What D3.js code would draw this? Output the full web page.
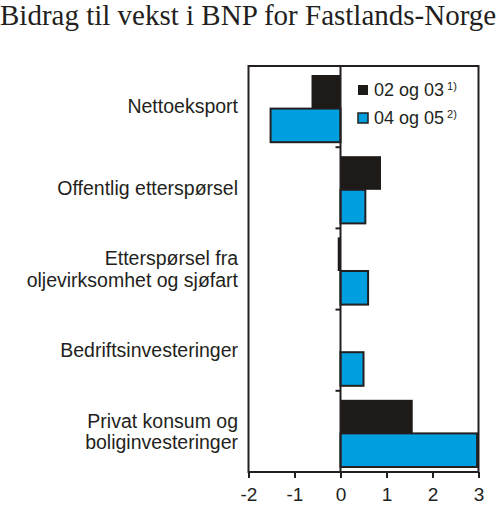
<!DOCTYPE html>
<html>
<head>
<meta charset="utf-8">
<script src="https://cdn.jsdelivr.net/npm/d3@7"></script>
<style>
  body { margin: 0; background: white; }
</style>
</head>
<body>
<div id="chart"></div>
<script>
const categories = [
  ["Nettoeksport"],
  ["Offentlig etterspørsel"],
  ["Etterspørsel fra", "oljevirksomhet og sjøfart"],
  ["Bedriftsinvesteringer"],
  ["Privat konsum og", "boliginvesteringer"]
];
const series = ["02 og 03", "04 og 05"];
const notes = ["1)", "2)"];
const values0203 = [-0.63, 0.88, -0.06, 0, 1.57];
const values0405 = [-1.52, 0.54, 0.6, 0.5, 2.97];
const xTicks = [-2, -1, 0, 1, 2, 3];

const black = "#1d1a17";
const blue = "#00a0e0";
const edge = "#231f20";
const sans = "Liberation Sans, Arial, sans-serif";

const width = 500;
const height = 508;
const margin = { top: 66, bottom: 36, left: 248.5, right: 21.5 };

const svg = d3
  .select("#chart")
  .append("svg")
  .attr("width", width)
  .attr("height", height);

const x = d3
  .scaleLinear()
  .domain([-2, 3])
  .range([margin.left, width - margin.right]);

const y = d3
  .scaleBand()
  .domain(d3.range(categories.length))
  .range([margin.top, height - margin.bottom]);

const sub = d3
  .scaleBand()
  .domain(series)
  .range([9, y.bandwidth() - 5]);

// title
svg
  .append("text")
  .attr("x", 0)
  .attr("y", 25)
  .attr("font-family", "Liberation Serif, Times New Roman, serif")
  .attr("font-size", 29)
  .attr("fill", "#231f20")
  .text("Bidrag til vekst i BNP for Fastlands-Norge");

// frame
svg
  .append("rect")
  .attr("x", margin.left)
  .attr("y", margin.top)
  .attr("width", width - margin.left - margin.right)
  .attr("height", height - margin.top - margin.bottom)
  .attr("fill", "none")
  .attr("stroke", edge)
  .attr("stroke-width", 2);

const rows = categories.map((c, i) => ({
  i: i,
  label: c,
  vals: [values0203[i], values0405[i]]
}));

// bars
const groups = svg
  .append("g")
  .selectAll("g")
  .data(rows)
  .join("g")
  .attr("transform", (d) => `translate(0, ${y(d.i)})`);

groups
  .selectAll("rect")
  .data((d) => d.vals.map((v, k) => ({ v: v, s: series[k], k: k })))
  .join("rect")
  .attr("x", (d) => x(Math.min(0, d.v)))
  .attr("y", (d) => sub(d.s))
  .attr("width", (d) => Math.abs(x(d.v) - x(0)))
  .attr("height", sub.bandwidth())
  .attr("fill", (d) => (d.k === 0 ? black : blue))
  .attr("stroke", (d) => (d.k === 0 ? "none" : edge))
  .attr("stroke-width", 2);

// zero line with category ticks
svg
  .append("line")
  .attr("x1", x(0))
  .attr("x2", x(0))
  .attr("y1", margin.top)
  .attr("y2", height - margin.bottom)
  .attr("stroke", edge)
  .attr("stroke-width", 2);

svg
  .append("g")
  .selectAll("line")
  .data(d3.range(1, categories.length))
  .join("line")
  .attr("x1", x(0) - 5)
  .attr("x2", x(0))
  .attr("y1", (d) => y(d))
  .attr("y2", (d) => y(d))
  .attr("stroke", edge)
  .attr("stroke-width", 2);

// category labels
const labels = svg
  .append("g")
  .attr("font-family", sans)
  .attr("font-size", 19.5)
  .attr("fill", "#231f20")
  .attr("text-anchor", "end")
  .selectAll("text")
  .data(rows)
  .join("text")
  .attr("x", 238)
  .attr("y", (d) => y(d.i) + y.bandwidth() / 2);

labels
  .selectAll("tspan")
  .data((d) => d.label.map((t, k) => ({ t: t, k: k, n: d.label.length })))
  .join("tspan")
  .attr("x", 238)
  .attr("dy", (d) => (d.k === 0 ? (0.35 - (d.n - 1) * 0.55) + "em" : "1.1em"))
  .text((d) => d.t);

// x axis
function xAxis(g) {
  g.attr("transform", `translate(0, ${height - margin.bottom})`)
    .call(d3.axisBottom(x).tickValues(xTicks).tickSize(6).tickFormat(d3.format("d")));
  g.select(".domain").remove();
  g.selectAll(".tick line").attr("stroke", edge).attr("stroke-width", 2);
  g.selectAll(".tick text")
    .attr("font-family", sans)
    .attr("font-size", 19)
    .attr("fill", "#231f20")
    .attr("y", 0)
    .attr("dy", 29)
    .text((d) => (d < 0 ? "-" + Math.abs(d) : d));
}
svg.append("g").call(xAxis);

// legend
const legend = svg
  .append("g")
  .selectAll("g")
  .data(series)
  .join("g")
  .attr("transform", (d, i) => `translate(358, ${85 + i * 28})`);

legend
  .append("rect")
  .attr("width", 10)
  .attr("height", 10)
  .attr("fill", (d, i) => (i === 0 ? black : blue))
  .attr("stroke", edge)
  .attr("stroke-width", (d, i) => (i === 0 ? 0 : 1.5));

const legendText = legend
  .append("text")
  .attr("x", 16)
  .attr("y", 11)
  .attr("font-family", sans)
  .attr("font-size", 18)
  .attr("fill", "#231f20");

legendText.append("tspan").text((d) => d);
legendText
  .append("tspan")
  .attr("dx", 3)
  .attr("dy", -6)
  .attr("font-size", 11)
  .text((d, i) => notes[i]);
</script>
</body>
</html>
